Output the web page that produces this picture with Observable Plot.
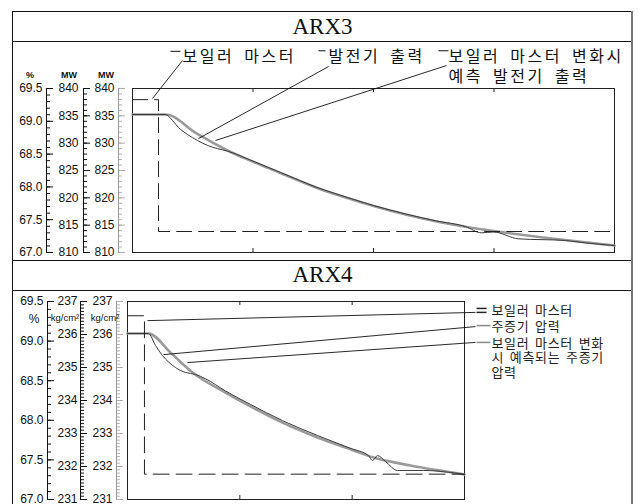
<!DOCTYPE html>
<html><head><meta charset="utf-8">
<script src="https://cdn.jsdelivr.net/npm/d3@7"></script>
<script src="https://cdn.jsdelivr.net/npm/@observablehq/plot@0.6"></script>
<style>
body{margin:0;background:#fff}
#chart{position:relative;width:638px;height:504px;overflow:hidden;background:#fff}
#chart div.t{position:absolute;white-space:nowrap}
</style></head><body><div id="chart"></div><script>
// ---------- data ----------
const titles = ["ARX3", "ARX4"];

// ARX3 panel: time in tick units (ticks at 1,2,3), boiler master in %, outputs in MW
const arx3XTicks = [1, 2, 3];
const arx3BoilerT = [0, 0.216, 0.216, 4];
const arx3BoilerPct = [69.33, 69.33, 67.32, 67.32];
const arx3GenT  = [0, 0.274, 0.332, 0.382, 0.456, 0.539, 0.622, 0.705, 0.788, 0.996, 1.228, 1.544, 1.809, 2.0, 2.266, 2.515, 2.763, 2.896, 2.996, 3.203, 3.593, 3.76, 4.0];
const arx3GenMW = [835.24, 835.24, 834.15, 832.87, 831.6, 830.5, 829.6, 829.0, 828.55, 826.75, 824.65, 821.8, 819.9, 818.6, 817.05, 815.8, 814.75, 813.6, 813.75, 812.5, 812.2, 811.75, 811.28];
const arx3PredT  = [0, 0.274, 0.531, 0.788, 0.996, 1.228, 1.544, 1.809, 2.0, 2.266, 2.515, 2.763, 2.996, 3.477, 4.0];
const arx3PredMW = [835.24, 835.24, 831.77, 828.66, 826.65, 824.54, 821.71, 819.79, 818.51, 816.95, 815.71, 814.72, 813.93, 812.56, 811.28];

// ARX4 panel: time in tick units (ticks at 1,2), boiler master in %, pressures in kg/cm²
const arx4XTicks = [1, 2];
const arx4BoilerT = [0, 0.151, 0.151, 3];
const arx4BoilerPct = [69.32, 69.32, 67.32, 67.32];
const arx4ActT = [0, 0.187, 0.249, 0.312, 0.427, 0.516, 0.605, 0.694, 0.872, 1.095, 1.380, 1.691, 1.985, 2.145, 2.181, 2.226, 2.297, 2.404, 2.635, 2.875, 3.0];
const arx4ActP = [236.03, 236.03, 235.67, 235.36, 235.0, 234.85, 234.79, 234.66, 234.29, 233.88, 233.39, 232.94, 232.55, 232.33, 232.18, 232.33, 232.15, 231.88, 231.88, 231.82, 231.76];
const arx4PredT = [0, 0.187, 0.383, 0.579, 0.872, 1.095, 1.380, 1.691, 1.985, 2.190, 2.519, 3.0];
const arx4PredP = [236.03, 236.03, 235.45, 234.85, 234.24, 233.82, 233.33, 232.88, 232.52, 232.27, 232.03, 231.76];

// tick labels
const pctTicks = [67.0, 67.5, 68.0, 68.5, 69.0, 69.5];
const mwTicks = [810, 815, 820, 825, 830, 835, 840];
const kgTicks = [231, 232, 233, 234, 235, 236, 237];
const pctUnit = "%", mwUnit = "MW", kgUnit = "kg/cm²";

// annotations (anchors in data units)
const arx3Labels = ["보일러 마스터", "발전기 출력", "보일러 마스터 변화시\n예측 발전기 출력"];
const arx3LabelT = [0.415, 1.627, 2.622];
const arx3LabelMW = [846.04, 846.04, 844.21];
const arx3LeadT1 = [0.415, 1.627, 2.606], arx3LeadV1 = [845.12, 844.02, 844.2];
const arx3LeadT2 = [0.166, 0.548, 0.689], arx3LeadV2 = [838.17, 830.85, 830.49];
const arx3DashT1 = [0.315, 1.544, 2.539], arx3DashT2 = [0.398, 1.602, 2.622], arx3DashV = [846.8, 846.9, 846.9];

const arx4Labels = ["보일러 마스터", "주증기 압력", "보일러 마스터 변화\n시 예측되는 주증기\n압력"];
const arx4LabelT = [3.24, 3.24, 3.24];
const arx4LabelP = [236.73, 236.25, 235.3];
const arx4LeadT1 = [0.178, 0.320, 0.534], arx4LeadV1 = [236.42, 235.39, 235.15];
const arx4LeadT2 = [3.098, 3.098, 3.098], arx4LeadV2 = [236.67, 236.24, 235.76];
const arx4SymT1 = [3.107, 3.107, 3.107, 3.107], arx4SymT2 = [3.196, 3.196, 3.231, 3.231];
const arx4SymV = [236.79, 236.67, 236.27, 235.76];
const arx4SymColor = ["#222", "#222", "#8a8a8a", "#8a8a8a"];

// ---------- helpers ----------
const zip = (a, b) => a.map((t, i) => ({t, v: b[i]}));
const root = document.getElementById("chart");
const AXF = '"Liberation Sans Narrow", "Liberation Sans", Arial, sans-serif';
const KRF = '"Noto Sans CJK KR", "Noto Sans", sans-serif';

function place(svg, left, top) {
  svg.style.position = "absolute";
  svg.style.left = left + "px";
  svg.style.top = top + "px";
  root.appendChild(svg);
}
function rect(left, top, w, h, color) {
  const d = document.createElement("div");
  Object.assign(d.style, {position: "absolute", left: left + "px", top: top + "px", width: w + "px", height: h + "px", background: color});
  root.appendChild(d);
}
function label(text, cx, cy, size, opts = {}) {
  const d = document.createElement("div");
  d.className = "t";
  d.textContent = text;
  Object.assign(d.style, {left: (cx - 100) + "px", width: "200px", textAlign: "center", top: (cy - size / 2) + "px",
    fontSize: size + "px", lineHeight: size + "px", fontFamily: opts.font || AXF, fontWeight: opts.weight || "normal", color: "#111"});
  root.appendChild(d);
}

function axis({lineX, frameTop, frameH, domain, majors, minors, fmt, pad, tickColor = "#111", lineColor = "#111"}) {
  const m = 14, majorLen = 7, minorLen = 4;
  const svg = Plot.plot({
    width: lineX + majorLen + 1, height: frameH + 2 * m,
    marginLeft: lineX, marginRight: 1, marginTop: m, marginBottom: m,
    y: {domain, axis: null},
    style: {background: "transparent", overflow: "visible", fontFamily: AXF, fontSize: "12px", color: "#111"},
    marks: [
      Plot.ruleY(minors, {stroke: tickColor, insetRight: majorLen - minorLen}),
      Plot.ruleY(majors, {stroke: tickColor}),
      Plot.frame({anchor: "left", stroke: lineColor}),
      Plot.axisY(majors, {anchor: "left", tickSize: 0, tickPadding: pad, tickFormat: fmt, fill: "#111"})
    ]
  });
  place(svg, 0, frameTop - m);
}

// ---------- frame & titles ----------
rect(12, 11, 621, 1, "#111");
rect(12, 41, 621, 1, "#111");
rect(12, 260, 621, 1, "#111");
rect(12, 290, 621, 1, "#111");
rect(12, 11, 1, 493, "#111");
rect(631, 11, 2, 493, "#777");
for (const [i, cy] of [[0, 27], [1, 275]]) {
  const d = document.createElement("div");
  d.className = "t";
  d.textContent = titles[i];
  Object.assign(d.style, {left: "12px", width: "621px", textAlign: "center", top: (cy - 12) + "px",
    fontSize: "23px", lineHeight: "24px", fontFamily: '"Liberation Serif", "DejaVu Serif", serif', color: "#111"});
  root.appendChild(d);
}

// ---------- ARX3 panel ----------
const pctMinor = d3.range(67, 69.501, 0.1);
const mwMinor = d3.range(810, 840.5, 1);
const kgMinor = d3.range(231, 237.01, 0.1);

axis({lineX: 46, frameTop: 88, frameH: 164, domain: [67, 69.5], majors: pctTicks, minors: pctMinor, fmt: d3.format(".1f"), pad: 4});
axis({lineX: 83, frameTop: 88, frameH: 164, domain: [810, 840], majors: mwTicks, minors: mwMinor, fmt: d3.format("d"), pad: 5});
axis({lineX: 118, frameTop: 88, frameH: 164, domain: [810, 840], majors: mwTicks, minors: mwMinor, fmt: d3.format("d"), pad: 4, tickColor: "#b0b0b0", lineColor: "#999"});
label(pctUnit, 30, 75, 9, {weight: "bold"});
label(mwUnit, 69, 75, 9, {weight: "bold"});
label(mwUnit, 106, 75, 9, {weight: "bold"});

const arx3Leaders = arx3LeadT1.map((t, i) => ({x1: t, y1: arx3LeadV1[i], x2: arx3LeadT2[i], y2: arx3LeadV2[i]}));
const arx3Dashes = arx3DashT1.map((t, i) => ({x1: t, x2: arx3DashT2[i], y: arx3DashV[i]}));
const arx3Text = arx3Labels.map((s, i) => ({s, t: arx3LabelT[i], v: arx3LabelMW[i]}));

const panel1 = Plot.plot({
  width: 621, height: 219, marginLeft: 120, marginRight: 19, marginTop: 47, marginBottom: 8,
  x: {domain: [0, 4], axis: null},
  y: {domain: [810, 840], axis: null},
  style: {background: "transparent", overflow: "visible", letterSpacing: "2.5px", wordSpacing: "4px"},
  marks: [
    Plot.frame({stroke: "#222"}),
    Plot.ruleX(arx3XTicks, {stroke: "#222", insetBottom: 160}),
    Plot.ruleX(arx3XTicks, {stroke: "#222", insetTop: 160}),
    Plot.line(zip(arx3PredT, arx3PredMW), {x: "t", y: "v", stroke: "#9a9a9a", strokeWidth: 2.6, curve: "monotone-x"}),
    Plot.line(zip(arx3GenT, arx3GenMW), {x: "t", y: "v", stroke: "#3a3a3a", strokeWidth: 1, curve: "monotone-x"}),
    Plot.link(arx3Leaders, {x1: "x1", y1: "y1", x2: "x2", y2: "y2", stroke: "#111", strokeWidth: 0.9}),
    Plot.link(arx3Dashes, {x1: "x1", x2: "x2", y1: "y", y2: "y", stroke: "#111", strokeWidth: 1}),
    Plot.text(arx3Text, {x: "t", y: "v", text: "s", textAnchor: "start", lineHeight: 1.25, fontSize: 16, fontFamily: KRF, fill: "#111"})
  ]
});
place(panel1, 12, 41);

const panel1b = Plot.plot({
  width: 621, height: 219, marginLeft: 120, marginRight: 19, marginTop: 47, marginBottom: 8,
  x: {domain: [0, 4], axis: null},
  y: {domain: [67, 69.5], axis: null},
  style: {background: "transparent", overflow: "visible"},
  marks: [
    Plot.line(zip(arx3BoilerT, arx3BoilerPct), {x: "t", y: "v", stroke: "#222", strokeWidth: 1, strokeDasharray: "15,7"})
  ]
});
place(panel1b, 12, 41);

// ---------- ARX4 panel ----------
axis({lineX: 47, frameTop: 301, frameH: 198, domain: [67, 69.5], majors: pctTicks, minors: pctMinor, fmt: d3.format(".1f"), pad: 4});
axis({lineX: 80, frameTop: 301, frameH: 198, domain: [231, 237], majors: kgTicks, minors: kgMinor, fmt: d3.format("d"), pad: 3});
axis({lineX: 116, frameTop: 301, frameH: 198, domain: [231, 237], majors: kgTicks, minors: kgMinor, fmt: d3.format("d"), pad: 4, tickColor: "#b0b0b0", lineColor: "#999"});
label(pctUnit, 34, 319, 12);
label(kgUnit, 65, 318, 9.5);
label(kgUnit, 105, 318, 9.5);

const arx4Leaders = arx4LeadT1.map((t, i) => ({x1: t, y1: arx4LeadV1[i], x2: arx4LeadT2[i], y2: arx4LeadV2[i]}));
const arx4Syms = arx4SymT1.map((t, i) => ({x1: t, x2: arx4SymT2[i], y: arx4SymV[i], c: arx4SymColor[i]}));
const arx4Text = arx4Labels.map((s, i) => ({s, t: arx4LabelT[i], v: arx4LabelP[i]}));

const panel2 = Plot.plot({
  width: 621, height: 214, marginLeft: 115, marginRight: 169, marginTop: 11, marginBottom: 5,
  x: {domain: [0, 3], axis: null},
  y: {domain: [231, 237], axis: null},
  style: {background: "transparent", overflow: "visible", letterSpacing: "0.7px", wordSpacing: "2px"},
  marks: [
    Plot.frame({stroke: "#222"}),
    Plot.ruleX(arx4XTicks, {stroke: "#222", insetBottom: 194}),
    Plot.ruleX(arx4XTicks, {stroke: "#222", insetTop: 194}),
    Plot.line(zip(arx4PredT, arx4PredP), {x: "t", y: "v", stroke: "#9a9a9a", strokeWidth: 2.6, curve: "monotone-x"}),
    Plot.line(zip(arx4ActT, arx4ActP), {x: "t", y: "v", stroke: "#3a3a3a", strokeWidth: 1, curve: "monotone-x"}),
    Plot.link(arx4Leaders, {x1: "x1", y1: "y1", x2: "x2", y2: "y2", stroke: "#111", strokeWidth: 0.9}),
    Plot.link(arx4Syms, {x1: "x1", x2: "x2", y1: "y", y2: "y", stroke: "c", strokeWidth: 1.5}),
    Plot.text(arx4Text, {x: "t", y: "v", text: "s", textAnchor: "start", lineHeight: 1.13, fontSize: 13, fontFamily: KRF, fill: "#222"})
  ]
});
place(panel2, 12, 290);

const panel2b = Plot.plot({
  width: 621, height: 214, marginLeft: 115, marginRight: 169, marginTop: 11, marginBottom: 5,
  x: {domain: [0, 3], axis: null},
  y: {domain: [67, 69.5], axis: null},
  style: {background: "transparent", overflow: "visible"},
  marks: [
    Plot.line(zip(arx4BoilerT, arx4BoilerPct), {x: "t", y: "v", stroke: "#222", strokeWidth: 1, strokeDasharray: "16,7"})
  ]
});
place(panel2b, 12, 290);
</script></body></html>
